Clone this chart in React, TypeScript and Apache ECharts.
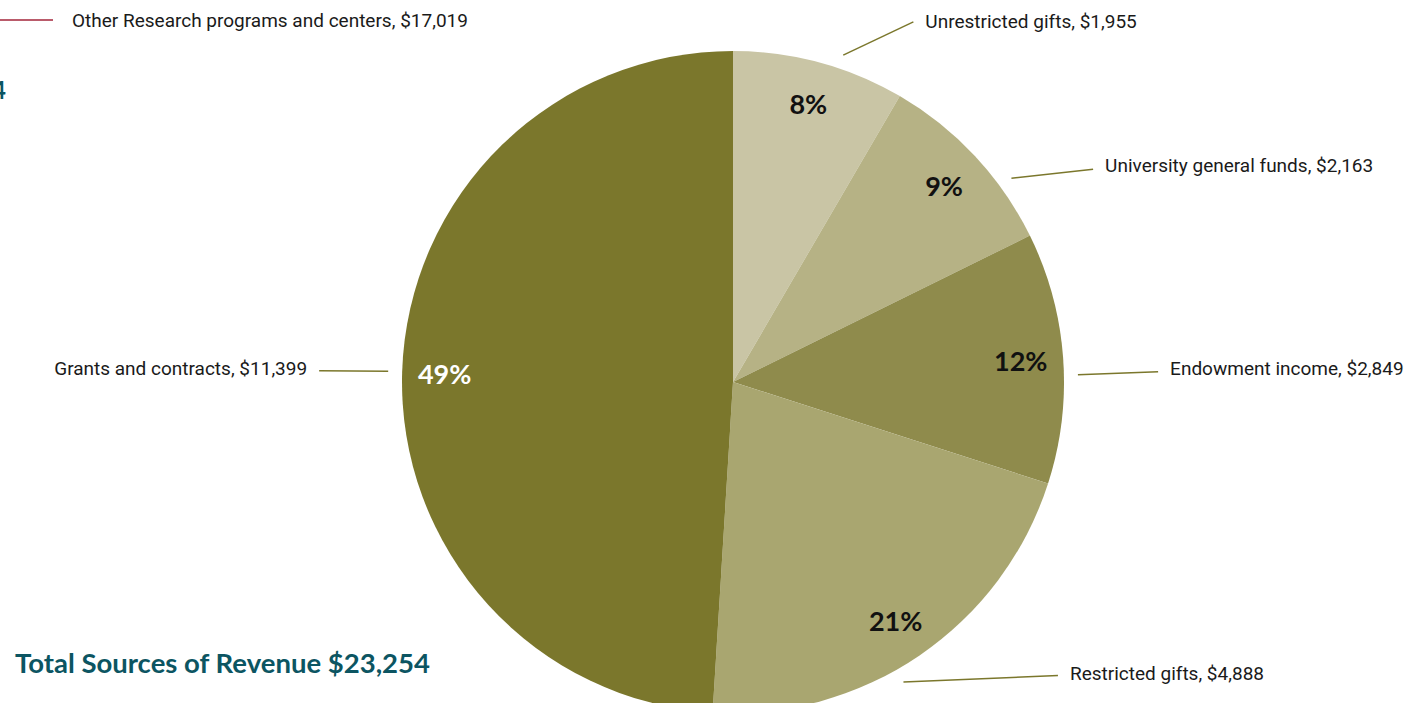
import React, { useEffect, useRef } from "react";
import * as echarts from "echarts";

// ---- data ----
const categories = [
  "Unrestricted gifts",
  "University general funds",
  "Endowment income",
  "Restricted gifts",
  "Grants and contracts",
];
const revenueValues = [1955, 2163, 2849, 4888, 11399];
const otherResearchLabel = "Other Research programs and centers";
const otherResearchValue = 17019;
const totalLabel = "Total Sources of Revenue";

// ---- styles ----
const sliceColors = ["#c9c5a5", "#b6b285", "#8f8b4c", "#a9a670", "#7b772c"];
const pctColors = ["#111111", "#111111", "#111111", "#111111", "#ffffff"];
// label line tweaks per slice: [length, length2, dy, start-angle offset (deg), end dy]
const labelTweaks = [
  [42, 83, 0, 3.5, 0],
  [0, 118, 9, 6.8, 4],
  [0, 95, 11, 3, 3],
  [22, 126, 0, 4.7, 2],
  [0, 83, -3, 0, 2],
];

const CX = 733;
const CY = 382;
const R = 331;
const GAP = 14;
const COND = 'Roboto, "Noto Sans", sans-serif';
const LABEL_SIZE = 19;
const TEAL = "#0c5562";

const fmt = (v: number) => v.toLocaleString("en-US");

export default function App() {
  const ref = useRef<HTMLDivElement>(null);

  useEffect(() => {
    if (!ref.current) return;
    const chart = echarts.init(ref.current, null, { renderer: "svg" });
    const total = revenueValues.reduce((a, b) => a + b, 0);

    const option: any = {
      animation: false,
      backgroundColor: "#ffffff",
      graphic: [
        {
          type: "line",
          shape: { x1: 0, y1: 20, x2: 53, y2: 20 },
          style: { stroke: "#a3253a", lineWidth: 1.5 },
        },
        {
          type: "text",
          x: 72,
          y: 20,
          style: {
            text: `${otherResearchLabel}, $${fmt(otherResearchValue)}`,
            fontFamily: COND,
            fontSize: LABEL_SIZE,
            fill: "#1a1a1a",
            verticalAlign: "middle",
            align: "left",
          },
        },
        {
          type: "text",
          x: 6,
          y: 89,
          style: {
            text: "4",
            fontFamily: "Lato, sans-serif",
            fontWeight: "bold",
            fontSize: 24,
            fill: TEAL,
            verticalAlign: "middle",
            align: "right",
          },
        },
        {
          type: "text",
          x: 15,
          y: 662,
          style: {
            text: `${totalLabel} $${fmt(total)}`,
            fontFamily: "Lato, sans-serif",
            fontWeight: "bold",
            fontSize: 27.5,
            fill: TEAL,
            verticalAlign: "middle",
            align: "left",
          },
        },
      ],
      series: [
        {
          type: "pie",
          center: [CX, CY],
          radius: R,
          startAngle: 90,
          clockwise: true,
          silent: true,
          avoidLabelOverlap: false,
          data: categories.map((name, i) => ({
            name,
            value: revenueValues[i],
            itemStyle: { color: sliceColors[i] },
            labelLine: { length: labelTweaks[i][0], length2: labelTweaks[i][1] },
          })),
          label: {
            show: true,
            position: "outside",
            alignTo: "none",
            distanceToLabelLine: 12,
            formatter: (p: any) => `${p.name}, $${fmt(p.value)}`,
            color: "#1a1a1a",
            fontFamily: COND,
            fontSize: LABEL_SIZE,
          },
          labelLine: {
            show: true,
            smooth: false,
            lineStyle: { color: "#7b772c", width: 1.5 },
          },
          labelLayout: (params: any) => {
            const t = labelTweaks[params.dataIndex];
            const pts = params.labelLinePoints;
            if (!pts || pts.length < 2) return { dy: t[2] };
            const p0 = pts[0];
            const pe = pts[pts.length - 1];
            const mid = Math.atan2(p0[1] - CY, p0[0] - CX) + (t[3] * Math.PI) / 180;
            const start = [CX + (R + GAP) * Math.cos(mid), CY + (R + GAP) * Math.sin(mid)];
            const end = [pe[0], pe[1] + t[2] + t[4]];
            return { dy: t[2], labelLinePoints: [start, end] };
          },
        },
        {
          type: "pie",
          center: [CX, CY],
          radius: [240, R],
          startAngle: 90,
          clockwise: true,
          silent: true,
          avoidLabelOverlap: false,
          data: categories.map((name, i) => ({
            name,
            value: revenueValues[i],
            itemStyle: { color: "rgba(0,0,0,0)" },
            label: { color: pctColors[i] },
          })),
          label: {
            show: true,
            position: "inside",
            formatter: (p: any) => `${Math.round(p.percent)}%`,
            fontFamily: "Lato, sans-serif",
            fontWeight: "bold",
            fontSize: 27,
          },
          labelLine: { show: false },
        },
      ],
    };

    chart.setOption(option);
    return () => chart.dispose();
  }, []);

  return (
    <div
      ref={ref}
      style={{ position: "fixed", left: 0, top: 0, width: 1426, height: 703 }}
    />
  );
}
